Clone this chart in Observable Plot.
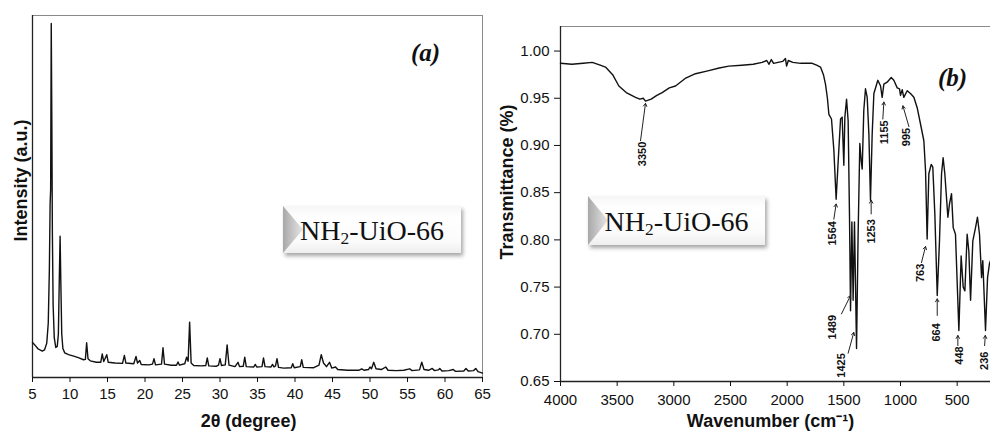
<!DOCTYPE html>
<html>
<head>
<meta charset="utf-8">
<script src="https://cdn.jsdelivr.net/npm/d3@7"></script>
<script src="https://cdn.jsdelivr.net/npm/@observablehq/plot@0.6"></script>
<style>
  html, body { margin: 0; padding: 0; background: #fff; overflow: hidden; }
  #wrap { position: relative; width: 990px; height: 432px; }
  .panel { position: absolute; top: 0; }
  .tag {
    position: absolute;
    background: linear-gradient(#f6f6f6, #ffffff 25%, #fbfbfb 75%, #eeeeee);
    box-shadow: 2px 3px 4px rgba(0,0,0,0.35);
    font-family: "Liberation Serif", "Times New Roman", serif;
    font-size: 28px; color: #111;
    display: flex; align-items: center; justify-content: center;
  }
  .tag .bevel {
    position: absolute; left: 0; top: 0; width: 20px; height: 100%;
    background: linear-gradient(to right, #a8a8a8, #e6e6e6);
    clip-path: polygon(0 0, 100% 50%, 0 100%);
  }
  .tag span { position: relative; top: 1px; }
  .tag sub { font-size: 0.62em; vertical-align: baseline; position: relative; top: 0.28em; }
</style>
</head>
<body>
<div id="wrap">
  <div id="pa" class="panel" style="left:0"></div>
  <div id="pb" class="panel" style="left:495px"></div>
  <div class="tag" style="left:283px; top:206px; width:178px; height:47px"><div class="bevel"></div><span>NH<sub>2</sub>-UiO-66</span></div>
  <div class="tag" style="left:588px; top:196px; width:177px; height:49px"><div class="bevel"></div><span>NH<sub>2</sub>-UiO-66</span></div>
</div>
<script>
// ---------- Panel (a): XRD ----------
const xrdAngle = [
  5.0,5.3,5.7,6.0,6.3,6.6,6.9,7.1,7.25,7.35,7.42,7.5,7.58,7.65,7.75,7.9,8.1,8.3,8.45,8.58,8.68,8.78,8.9,9.05,9.3,9.8,10.5,11.2,11.8,
  12.05,12.22,12.4,12.7,13.5,14.1,14.3,14.5,14.9,15.1,16.0,17.0,17.25,17.45,18.5,18.8,19.0,19.3,19.5,20.5,21.0,21.2,21.4,22.2,22.4,22.6,
  23.5,24.2,24.4,24.6,25.3,25.55,25.75,25.95,26.15,26.5,27.5,28.1,28.3,28.5,29.5,29.8,30.0,30.2,30.7,30.95,31.2,32.0,32.4,32.6,33.1,33.3,33.5,
  34.5,34.7,34.9,35.6,35.8,36.0,36.8,37.0,37.2,37.4,37.6,37.8,38.5,39.5,39.7,39.9,40.7,40.9,41.1,42.5,43.2,43.5,43.8,44.2,44.6,44.9,45.4,45.7,
  47.0,48.5,48.9,49.2,49.8,50.0,50.2,50.5,50.8,51.5,52.1,52.4,53.5,54.5,55.3,55.6,56.6,56.9,57.2,57.8,58.3,58.6,59.1,59.3,59.6,60.5,61.1,61.4,
  62.5,62.8,63.1,63.8,64.1,64.4,65.0
];
const xrdIntensity = [
  9.7,9.0,8.0,7.6,7.3,7.6,9.5,15,30,48,52,97.8,70,40,20,11,8.3,8.6,12,28,39,26,12,8,6.8,6.3,5.9,5.4,4.9,
  5.0,9.6,5.2,4.6,4.2,4.2,6.5,4.4,6.3,4.2,4.0,3.9,6.1,4.0,3.8,5.8,4.0,4.7,3.6,3.5,3.7,5.2,3.5,3.7,8.2,3.7,
  3.4,3.4,4.3,3.4,3.8,5.6,4.5,15.3,4.0,3.3,3.2,3.3,5.4,3.2,3.1,3.4,5.2,3.3,3.5,9.0,3.4,3.0,4.2,3.0,3.1,5.6,3.0,
  2.9,3.6,2.9,3.0,5.4,3.0,2.9,3.6,2.9,3.2,5.2,2.8,2.6,2.7,3.8,2.7,3.0,4.9,2.8,2.7,3.4,6.3,4.0,3.0,4.2,2.6,2.9,2.2,
  2.0,2.0,2.4,2.0,2.2,2.9,2.4,4.2,2.4,2.2,2.9,2.0,1.9,2.0,2.4,1.9,2.1,4.2,2.2,2.0,2.5,1.9,2.1,2.5,1.8,1.9,2.2,1.7,
  1.8,2.5,1.8,1.9,2.5,1.6,1.2
];
const xrdTicks = [5,10,15,20,25,30,35,40,45,50,55,60,65];
const xrdDomainX = [5, 65];
const xrdDomainY = [0, 100];

// ---------- Panel (b): FTIR ----------
const ftirWavenumber = [
  4000,3900,3800,3720,3650,3603,3540,3485,3420,3338,3300,3270,3250,3200,3150,3103,3040,2985,2900,2809,2700,2600,2515,2400,2300,
  2221,2180,2160,2140,2120,2080,2040,2015,2005,1990,1950,1880,1779,1740,1706,1680,1662,1645,1632,
  1609,1588,1568,1550,1529,1515,1500,1491,1476,1462,1450,1441,1429,1418,1406,1388,1374,1359,1347,1338,1324,1309,1294,1279,1265,1250,1235,
  1200,1176,1162,1147,1118,1082,1059,1029,1009,1000,985,971,941,912,882,853,824,794,779,765,750,729,715,697,676,656,638,624,609,582,568,
  550,535,515,485,465,447,432,412,397,382,362,338,321,303,285,274,250,232,215,206
];
const ftirTransmittance = [
  0.987,0.986,0.987,0.988,0.985,0.983,0.975,0.963,0.956,0.951,0.949,0.950,0.947,0.949,0.953,0.956,0.961,0.963,0.971,0.976,0.979,0.982,0.984,0.985,0.986,
  0.988,0.990,0.986,0.991,0.987,0.988,0.989,0.992,0.984,0.990,0.988,0.987,0.987,0.985,0.983,0.975,0.965,0.950,0.933,
  0.928,0.895,0.843,0.883,0.928,0.930,0.879,0.930,0.949,0.926,0.824,0.725,0.819,0.736,0.819,0.685,0.806,0.902,0.884,0.875,0.937,0.960,0.951,0.912,0.842,0.912,0.955,
  0.969,0.963,0.951,0.965,0.967,0.972,0.969,0.961,0.960,0.953,0.959,0.951,0.958,0.955,0.951,0.940,0.923,0.905,0.873,0.801,0.870,0.880,0.877,0.827,0.741,0.799,0.870,0.887,0.870,0.824,0.838,
  0.849,0.813,0.806,0.704,0.783,0.750,0.746,0.806,0.788,0.736,0.799,0.813,0.824,0.806,0.760,0.778,0.704,0.760,0.775,0.778
];
const ftirXTicks = [4000,3500,3000,2500,2000,1500,1000,500];
const ftirYTicks = [0.65,0.70,0.75,0.80,0.85,0.90,0.95,1.00];
const ftirDomainX = [4000, 206];
const ftirDomainY = [0.65, 1.026];

// peak annotations: label text, label anchor (wavenumber, T), arrow tail and head
const peakLabel   = ["3350","1564","1253","1155","995","1489","1425","763","664","448","236"];
const peakLabelWn = [3279, 1600, 1259, 1144, 947, 1600, 1518, 821, 685, 482, 262];
const peakLabelT  = [0.891,0.807,0.809,0.914,0.909,0.7075,0.667,0.765,0.702,0.6775,0.672];
const arrowFromWn = [3294, 1588, 1259, 1156, 926, 1521, 1462, 815, 676, 494, 258];
const arrowFromT  = [0.905,0.822,0.8275,0.928,0.920,0.7216,0.680,0.776,0.720,0.688,0.688];
const arrowToWn   = [3250, 1568, 1259, 1147, 979, 1441, 1412, 779, 676, 494, 252];
const arrowToT    = [0.9446,0.838,0.842,0.946,0.942,0.741,0.702,0.793,0.7375,0.6987,0.6987];

const xrd = xrdAngle.map((a, i) => ({angle: a, intensity: xrdIntensity[i]}));
const ftir = ftirWavenumber.map((w, i) => ({wn: w, t: ftirTransmittance[i]}));
const peaks = peakLabel.map((s, i) => ({
  label: s, lx: peakLabelWn[i], ly: peakLabelT[i],
  x1: arrowFromWn[i], y1: arrowFromT[i], x2: arrowToWn[i], y2: arrowToT[i]
}));

const baseStyle = {fontFamily: "'Liberation Sans', Arial, sans-serif", fontSize: "15px", color: "#111", background: "transparent", overflow: "visible"};
const titleOpts = {fontSize: 18, fontWeight: "bold", fill: "#111", textAnchor: "middle", lineAnchor: "middle"};
const panelTagOpts = {fontSize: 25, fontWeight: "bold", fontStyle: "italic", fontFamily: "'Liberation Serif', 'Times New Roman', serif", fill: "#111", textAnchor: "middle", lineAnchor: "middle"};

const plotA = Plot.plot({
  width: 495, height: 432,
  marginLeft: 32, marginRight: 13, marginTop: 15, marginBottom: 55,
  style: baseStyle,
  x: {domain: xrdDomainX},
  y: {domain: xrdDomainY, axis: null},
  marks: [
    Plot.frame({stroke: "#8a8a8a", strokeWidth: 1}),
    Plot.ruleX([xrdDomainX[0]], {stroke: "#222", strokeWidth: 1.3}),
    Plot.ruleY([xrdDomainY[0]], {stroke: "#222", strokeWidth: 1.3}),
    Plot.axisX({ticks: xrdTicks, tickSize: 5, tickPadding: 6, label: null, fontSize: 15, tickFormat: d => String(d)}),
    Plot.line(xrd, {x: "angle", y: "intensity", stroke: "#111", strokeWidth: 1.4}),
    Plot.text(["2θ (degree)"], {frameAnchor: "bottom", dx: -9, dy: 44, ...titleOpts}),
    Plot.text(["Intensity (a.u.)"], {frameAnchor: "left", rotate: -90, dx: -11, dy: -16, ...titleOpts}),
    Plot.text(["(a)"], {frameAnchor: "top-right", dx: -57, dy: 37, ...panelTagOpts})
  ]
});
document.getElementById("pa").appendChild(plotA);

const plotB = Plot.plot({
  width: 495, height: 432,
  marginLeft: 65, marginRight: 0, marginTop: 26, marginBottom: 51,
  style: baseStyle,
  x: {domain: ftirDomainX},
  y: {domain: ftirDomainY},
  marks: [
    Plot.ruleY([ftirDomainY[1]], {stroke: "#8a8a8a", strokeWidth: 1}),
    Plot.ruleX([ftirDomainX[0]], {stroke: "#222", strokeWidth: 1.3}),
    Plot.ruleY([ftirDomainY[0]], {stroke: "#222", strokeWidth: 1.3}),
    Plot.axisX({ticks: ftirXTicks, tickSize: 5, tickPadding: 8, label: null, fontSize: 15, tickFormat: d => String(d)}),
    Plot.axisY({ticks: ftirYTicks, tickSize: 6, tickPadding: 5, label: null, fontSize: 15, tickFormat: d3.format(".2f")}),
    Plot.line(ftir, {x: "wn", y: "t", stroke: "#111", strokeWidth: 1.4}),
    Plot.arrow(peaks, {x1: "x1", y1: "y1", x2: "x2", y2: "y2", stroke: "#222", strokeWidth: 1, headLength: 5}),
    Plot.text(peaks, {x: "lx", y: "ly", text: "label", rotate: -90, fontSize: 11, fontWeight: "bold", fill: "#111"}),
    Plot.text(["Wavenumber (cm⁻¹)"], {frameAnchor: "bottom", dx: -5, dy: 40, ...titleOpts}),
    Plot.text(["Transmittance (%)"], {frameAnchor: "left", rotate: -90, dx: -53, dy: -22, ...titleOpts}),
    Plot.text(["(b)"], {frameAnchor: "top-right", dx: -38, dy: 51, ...panelTagOpts})
  ]
});
document.getElementById("pb").appendChild(plotB);
</script>
</body>
</html>
